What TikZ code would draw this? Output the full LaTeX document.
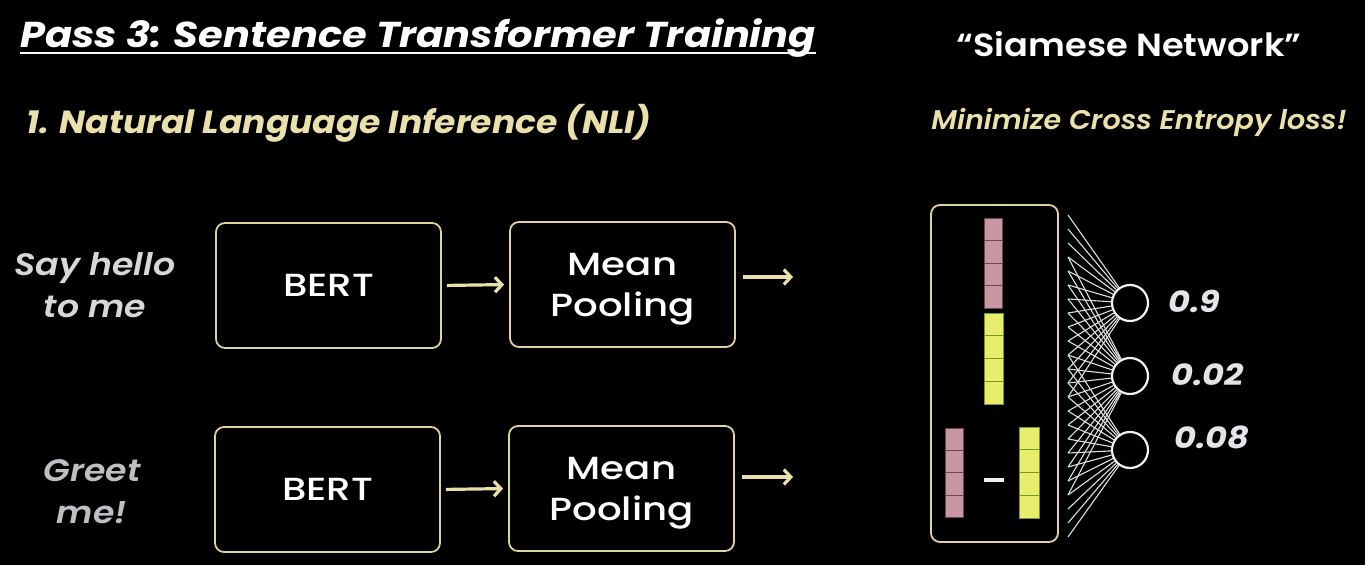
\documentclass[tikz,border=0pt]{standalone}
\usepackage{fontspec}
\setmainfont{Poppins}
\newfontfamily\fblockfont{Poppins Medium}[FakeStretch=1.21]
\newfontfamily\ftitlefont{Poppins Bold Italic}[FakeStretch=1.11]
\newfontfamily\fnlifont{Poppins Bold Italic}[FakeStretch=1.08]
\newfontfamily\fsiamfont{Poppins SemiBold}[FakeStretch=1.1]
\newfontfamily\fminifont{Poppins SemiBold Italic}[FakeStretch=1.06]
\newfontfamily\fsentfont{Poppins SemiBold Italic}[FakeStretch=1.12]
\newfontfamily\fnumfont{Poppins Bold Italic}[FakeStretch=1.12]
\usetikzlibrary{arrows.meta}
\definecolor{khaki}{RGB}{234,224,172}
\definecolor{boxline}{RGB}{222,210,160}
\definecolor{pinkc}{RGB}{202,150,162}
\definecolor{pinkd}{RGB}{110,70,80}
\definecolor{yelc}{RGB}{232,238,108}
\definecolor{yeld}{RGB}{120,150,40}
\definecolor{netc}{RGB}{222,222,222}
\definecolor{numc}{RGB}{226,228,232}
\definecolor{sent1}{RGB}{215,215,218}
\definecolor{sent2}{RGB}{190,190,195}
\tikzset{
  blockbox/.style={draw=boxline, line width=1.8pt, rounded corners=9pt,
    minimum width=225pt, minimum height=125pt, text=white, align=center,
    font=\fblockfont\fontsize{32}{41}\selectfont, inner sep=0pt},
  arr/.style={draw=khaki, line width=3.2pt, -{Straight Barb[length=7pt,width=15pt]}},
  pinkcell/.style={fill=pinkc, draw=pinkd, line width=0.8pt},
  yelcell/.style={fill=yelc, draw=yeld, line width=0.8pt},
  outc/.style={circle, draw=white!90!gray, line width=2.2pt, minimum size=36pt, inner sep=0pt, fill=black},
  net/.style={draw=netc, line width=1.1pt},
  numlab/.style={anchor=base west, inner sep=0pt, text=numc, font=\fnumfont\fontsize{30}{34}\selectfont},
  sentA/.style={anchor=base, inner sep=0pt, text=sent1, font=\fsentfont\fontsize{31}{36}\selectfont},
  sentB/.style={anchor=base, inner sep=0pt, text=sent2, font=\fsentfont\fontsize{31}{36}\selectfont}
}
\begin{document}
\begin{tikzpicture}[x=1pt,y=-1pt]
\fill[black] (0,0) rectangle (1365,565);
\useasboundingbox (0,0) rectangle (1365,565);

% headings
\node[anchor=base west, inner sep=0pt, text=white, font=\ftitlefont\fontsize{36}{42}\selectfont] (title) at (20,47) {Pass 3: Sentence Transformer Training};
\draw[white, line width=2.5pt] ([yshift=-6pt]title.base west) -- ([yshift=-6pt]title.base east);
\node[anchor=base west, inner sep=0pt, text=khaki, font=\fnlifont\fontsize{32}{38}\selectfont] (nli) at (26,133) {1. Natural Language Inference (NLI)};
\node[anchor=base, inner sep=0pt, text=white, font=\fsiamfont\fontsize{32}{38}\selectfont] (siam) at (1129,56) {“Siamese Network”};
\node[anchor=base, inner sep=0pt, text=khaki, font=\fminifont\fontsize{27}{32}\selectfont] (mini) at (1139,129) {Minimize Cross Entropy loss!};

% sentences
\node[sentA] (s1a) at (95,275) {Say hello};
\node[sentA] (s1b) at (95,317) {to me};
\node[sentB] (s2a) at (92,481) {Greet};
\node[sentB] (s2b) at (92,523) {me!};

% blocks
\node[blockbox] (b1) at (328.5,285.5) {BERT};
\node[blockbox, text depth=0pt] (m1) at (622.5,284.5) {Mean\\Pooling};
\node[blockbox] (b2) at (327.5,489.5) {BERT};
\node[blockbox, text depth=0pt] (m2) at (621.5,488.5) {Mean\\Pooling};

\coordinate (out1) at (793,277);
\coordinate (out2) at (793,477);
\draw[arr, shorten <=5pt, shorten >=5pt] (b1.east) -- (m1.west);
\draw[arr, shorten <=5pt, shorten >=5pt] (b2.east) -- (m2.west);
\draw[arr, shorten <=7pt] (m1.east |- out1) -- (out1);
\draw[arr, shorten <=7pt] (m2.east |- out2) -- (out2);

% concatenated vector box
\node[draw=boxline, line width=1.8pt, rounded corners=9pt, minimum width=127pt, minimum height=337pt, inner sep=0pt] (vbox) at (994.5,373.5) {};
\foreach \k in {0,...,3} {
  \draw[pinkcell] (984,{218+22.5*\k}) rectangle +(18,22.5);
  \draw[yelcell] (984,{313+22.75*\k}) rectangle +(19,22.75);
  \draw[pinkcell] (945,{428+22.4*\k}) rectangle +(18,22.4);
  \draw[yelcell] (1019,{427+22.75*\k}) rectangle +(20,22.75);
}
\fill[white!88!gray] (984,478) rectangle (1004,481.5);

% output layer
\node[outc] (c1) at (1130,303) {};
\node[outc] (c2) at (1130,376) {};
\node[outc] (c3) at (1130,450) {};
\foreach \i in {0,...,23} \coordinate (p\i) at (1068,{215+14*\i});
\foreach \i in {0,...,13} \draw[net] (p\i) -- (c1);
\foreach \i in {3,...,20} \draw[net] (p\i) -- (c2);
\foreach \i in {10,...,23} \draw[net] (p\i) -- (c3);

\node[numlab] (n1) at (1168,312) {0.9};
\node[numlab] (n2) at (1171,385) {0.02};
\node[numlab] (n3) at (1174,448) {0.08};
\end{tikzpicture}
\end{document}
